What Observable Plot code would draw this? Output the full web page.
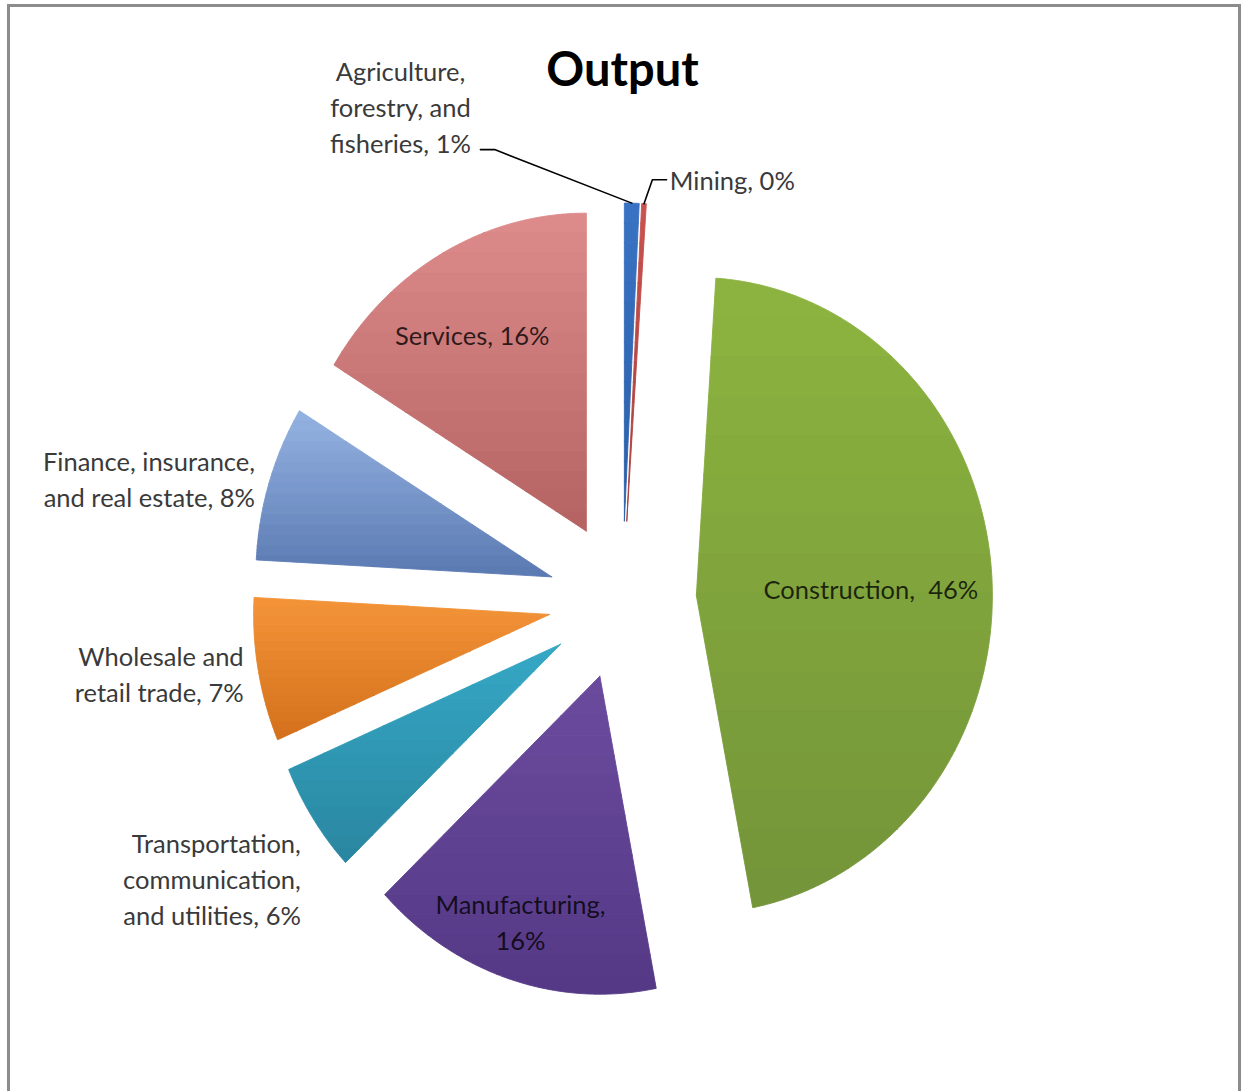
<!DOCTYPE html>
<html>
<head>
<meta charset="utf-8">
<script src="https://cdn.jsdelivr.net/npm/d3@7"></script>
<script src="https://cdn.jsdelivr.net/npm/@observablehq/plot@0.6"></script>
<style>
  body { margin: 0; background: #fff; }
  #chart svg { display: block; }
</style>
</head>
<body>
<div id="chart"></div>
<script>
// ---------------- DATA ----------------
const title = "Output";
const categories = [
  "Agriculture, forestry, and fisheries",
  "Mining",
  "Construction",
  "Manufacturing",
  "Transportation, communication, and utilities",
  "Wholesale and retail trade",
  "Finance, insurance, and real estate",
  "Services"
];
const shares = [0.8, 0.25, 45.9, 16.0, 5.6, 7.3, 7.9, 16.25];
const labelTexts = [
  "Agriculture,\nforestry, and\nfisheries, 1%",
  "Mining, 0%",
  "Construction,  46%",
  "Manufacturing,\n16%",
  "Transportation,\ncommunication,\nand utilities, 6%",
  "Wholesale and\nretail trade, 7%",
  "Finance, insurance,\nand real estate, 8%",
  "Services, 16%"
];

// ---------------- STYLE / LAYOUT ----------------
const colorTop    = ["#3a73c4", "#c9534f", "#8db43f", "#6b4b9e", "#35a8c6", "#f49438", "#95b3e2", "#dd8b8b"];
const colorBottom = ["#2b5fa8", "#a63d3b", "#739439", "#543885", "#2a86a0", "#d4701c", "#5a79b1", "#b56262"];
const BANDS = 16;
const W = 1243, H = 1091;
const CX = 622, CY = 600, RX = 296, RY = 318;
const EXPLODE = 0.25;
const FONT = "Lato, 'Open Sans', sans-serif";
const placement = [
  {free: [-0.75, 1.557], anchor: "middle", line: "middle", outside: true,
   leader: [[-0.480, 1.418], [-0.432, 1.418]]},
  {free: [0.160, 1.326], anchor: "start", line: "middle", outside: true,
   leader: [[0.149, 1.323], [0.101, 1.323]]},
  {r: 0.84, deg: 87.3, anchor: "middle", line: "middle"},
  {r: 1.064, deg: 198.9, anchor: "middle", line: "middle"},
  {r: 1.3, anchor: "end", line: "top", outside: true},
  {r: 1.3, anchor: "end", line: "middle", outside: true},
  {r: 1.3, anchor: "end", line: "middle", outside: true},
  {r: 0.98, deg: 328.8, anchor: "middle", line: "middle"}
];

// ---------------- GEOMETRY ----------------
const arcs = d3.pie().sort(null).value(d => d).startAngle(0).endAngle(2 * Math.PI)(shares);
const slices = arcs.map((p, i) => {
  const mid = (p.startAngle + p.endAngle) / 2;
  const ox = EXPLODE * Math.sin(mid), oy = EXPLODE * Math.cos(mid);
  const n = Math.max(2, Math.ceil((p.endAngle - p.startAngle) / (Math.PI / 360)));
  const poly = [{x: ox, y: oy}];
  for (let k = 0; k <= n; k++) {
    const a = p.startAngle + (p.endAngle - p.startAngle) * k / n;
    poly.push({x: ox + Math.sin(a), y: oy + Math.cos(a)});
  }
  return {i, mid, ox, oy, poly, category: categories[i]};
});

// clip a polygon to a half-plane in y (Sutherland–Hodgman)
function clipY(poly, y0, keepAbove) {
  const out = [];
  for (let k = 0; k < poly.length; k++) {
    const a = poly[k], b = poly[(k + 1) % poly.length];
    const ina = keepAbove ? a.y >= y0 : a.y <= y0;
    const inb = keepAbove ? b.y >= y0 : b.y <= y0;
    if (ina) out.push(a);
    if (ina !== inb) {
      const t = (y0 - a.y) / (b.y - a.y);
      out.push({x: a.x + t * (b.x - a.x), y: y0});
    }
  }
  return out;
}

// shaded bands (top light -> bottom dark) for each slice
const bandPts = [];
slices.forEach(s => {
  const ys = s.poly.map(d => d.y);
  const yMax = d3.max(ys), yMin = d3.min(ys), h = (yMax - yMin) / BANDS;
  const interp = d3.interpolateRgb(colorTop[s.i], colorBottom[s.i]);
  for (let k = 0; k < BANDS; k++) {
    const hi = yMax - k * h, lo = yMax - (k + 1) * h;
    let band = clipY(clipY(s.poly, hi, false), lo, true);
    if (band.length < 3) continue;
    const col = d3.color(interp((k + 0.5) / BANDS)).formatHex();
    const key = `${s.category}#${k}`;
    band.concat([band[0]]).forEach(d => bandPts.push({x: d.x, y: d.y, band: key, color: col}));
  }
});

const labels = slices.map((s, i) => {
  const pl = placement[i];
  let x, y;
  if (pl.free) { [x, y] = pl.free; }
  else {
    const a = pl.deg != null ? pl.deg * Math.PI / 180 : s.mid;
    x = pl.r * Math.sin(a); y = pl.r * Math.cos(a);
  }
  return {x, y, text: labelTexts[i], anchor: pl.anchor, line: pl.line, outside: !!pl.outside};
});

const leaders = [];
slices.forEach((s, i) => {
  const pl = placement[i];
  if (!pl.leader) return;
  const tip = {x: s.ox + Math.sin(s.mid), y: s.oy + Math.cos(s.mid)};
  leaders.push(pl.leader.map(([x, y]) => ({x, y})).concat([tip]));
});

// ---------------- MARKS ----------------
const marks = [];
marks.push(Plot.line(bandPts, {x: "x", y: "y", z: "band", fill: "color", stroke: "color", strokeWidth: 0.9, curve: "linear"}));
leaders.forEach(pts => {
  marks.push(Plot.line(pts, {x: "x", y: "y", stroke: "#000", strokeWidth: 1.6, curve: "linear"}));
});
labels.forEach(l => {
  marks.push(Plot.text([l], {
    x: "x", y: "y", text: "text",
    textAnchor: l.anchor, lineAnchor: l.line,
    fontSize: 25.5, lineHeight: 1.41, fontFamily: FONT,
    fill: l.outside ? "#3a3a3a" : "#000", fillOpacity: l.outside ? 1 : 0.78
  }));
});
marks.push(Plot.text([title], {
  x: () => 0, y: () => (CY - 70) / RY, text: d => d,
  fontSize: 47, fontWeight: "bold", fontFamily: FONT, fill: "#000", lineAnchor: "middle"
}));
marks.push(Plot.frame({stroke: "#8c8c8c", strokeWidth: 3, insetLeft: 8, insetTop: 5, insetRight: 4, insetBottom: -10}));

const svg = Plot.plot({
  width: W, height: H,
  marginTop: 0, marginRight: 0, marginBottom: 0, marginLeft: 0,
  x: {type: "linear", domain: [-CX / RX, (W - CX) / RX], range: [0, W], axis: null},
  y: {type: "linear", domain: [-(H - CY) / RY, CY / RY], range: [H, 0], axis: null},
  color: {type: "identity"},
  style: {background: "#fff", overflow: "visible"},
  marks
});

document.getElementById("chart").appendChild(svg);
</script>
</body>
</html>
